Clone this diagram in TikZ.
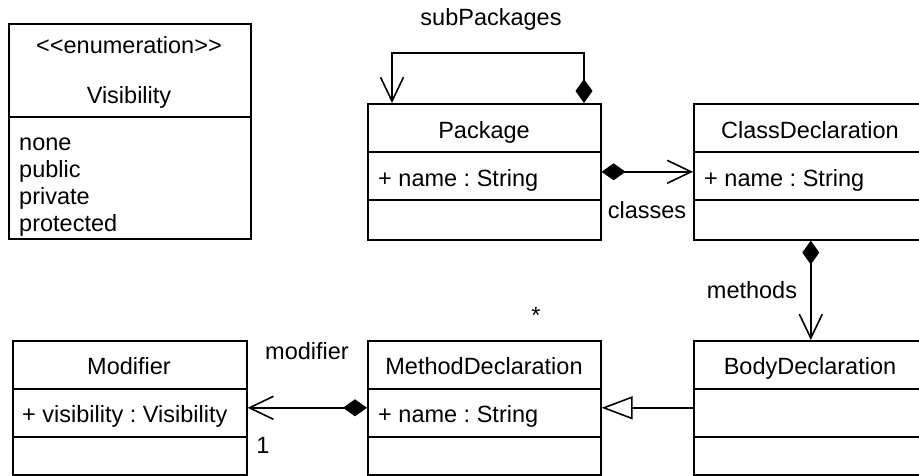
\documentclass[tikz,border=0pt]{standalone}
\usepackage{fontspec}
\setmainfont{Liberation Sans}
\frenchspacing
\usetikzlibrary{arrows.meta,positioning}
\tikzset
{
    classbox/.style = {rectangle, draw=black, line width=1.6pt, anchor=north west, inner sep=0pt, minimum width=#1, minimum height=136pt},
    umltext/.style  = {inner sep=0pt, anchor=base, font=\fontsize{23.5}{27}\selectfont},
    attrtext/.style = {umltext, anchor=base west},
    divider/.style  = {line width=1.6pt},
    compose/.style  = {line width=1.6pt, {Diamond[length=24pt,width=17pt]}-{Straight Barb[length=24pt,width=23pt]}},
    inherit/.style  = {line width=1.6pt, -{Triangle[open,length=31pt,width=23pt]}}
}

\begin{document}
\begin{tikzpicture}[x=1pt, y=-1pt]
		\useasboundingbox (0,0) rectangle (919,475);
		% class boxes
		\node (vis)		[classbox=242pt, minimum height=215pt]	at (8,23)		{};
		\node (pkg)		[classbox=233pt]						at (367,103)	{};
		\node (cls)		[classbox=234pt]						at (693,103)	{};
		\node (mod)		[classbox=234pt, minimum height=134pt]	at (12,340)		{};
		\node (meth)	[classbox=233pt, minimum height=134pt]	at (367,340)	{};
		\node (body)	[classbox=234pt, minimum height=134pt]	at (693,340)	{};
		\draw[divider] (vis.west |- 0,117) -- (vis.east |- 0,117);
		\draw[divider] (pkg.west |- 0,152) -- (pkg.east |- 0,152);
		\draw[divider] (pkg.west |- 0,200) -- (pkg.east |- 0,200);
		\draw[divider] (cls.west |- 0,152) -- (cls.east |- 0,152);
		\draw[divider] (cls.west |- 0,200) -- (cls.east |- 0,200);
		\draw[divider] (mod.west |- 0,389) -- (mod.east |- 0,389);
		\draw[divider] (mod.west |- 0,437) -- (mod.east |- 0,437);
		\draw[divider] (meth.west |- 0,389) -- (meth.east |- 0,389);
		\draw[divider] (meth.west |- 0,437) -- (meth.east |- 0,437);
		\draw[divider] (body.west |- 0,389) -- (body.east |- 0,389);
		\draw[divider] (body.west |- 0,437) -- (body.east |- 0,437);
		% texts
		\node (visst)	[umltext]	at (129,53)		{<{}<enumeration>{}>};
		\node (visname)	[umltext]	at (129,103)	{Visibility};
		\node (none)	[attrtext]	at (19,150)		{none};
		\node (public)	[attrtext]	at (19,177)		{public};
		\node (private)	[attrtext]	at (19,204)		{private};
		\node (protect)	[attrtext]	at (19,231)		{protected};
		\node (pkgname)	[umltext]	at (484,138)	{Package};
		\node (pkgattr)	[attrtext]	at (378,186)	{+ name : String};
		\node (clsname)	[umltext]	at (810,138)	{ClassDeclaration};
		\node (clsattr)	[attrtext]	at (704,186)	{+ name : String};
		\node (modname)	[umltext]	at (129,374)	{Modifier};
		\node (modattr)	[attrtext]	at (22,422)		{+ visibility : Visibility};
		\node (methname)[umltext]	at (484,374)	{MethodDeclaration};
		\node (methattr)[attrtext]	at (378,422)	{+ name : String};
		\node (bodyname)[umltext]	at (810,374)	{BodyDeclaration};
		% connectors
		\coordinate (subR) at (584,103);
		\coordinate (subL) at (392,103);
		\draw[compose] (subR) -- ++(0,-50) -| (subL);
		\draw[compose] (pkg.east) -- (cls.west);
		\draw[compose] (cls.south) -- (body.north);
		\draw[compose] (meth.west) -- (mod.east);
		\draw[inherit] (body.west) -- (meth.east);
		% connector labels
		\node (lsub)	[umltext]	at (491,25)		{subPackages};
		\node (lcls)	[umltext]	at (647,218)	{classes};
		\node (lclsm)	[umltext, font=\fontsize{9}{9}\selectfont]	at (752,133)	{*};
		\node (lmeth)	[umltext]	at (752,298)	{methods};
		\node (lmethm)	[umltext]	at (536,323)	{*};
		\node (lmod)	[umltext]	at (307,359)	{modifier};
		\node (lmodm)	[umltext]	at (263,453)	{1};
\end{tikzpicture}
\end{document}
